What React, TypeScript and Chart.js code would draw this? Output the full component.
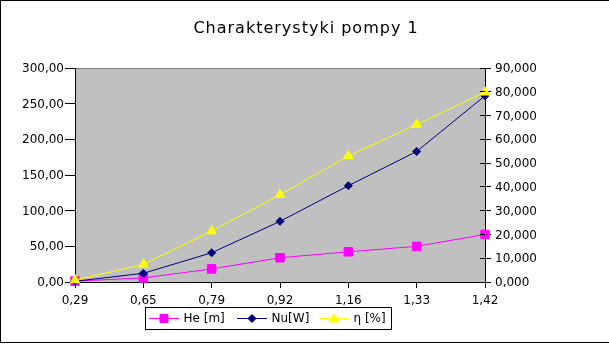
import React, { useEffect, useRef } from "react";
import { Chart, registerables } from "chart.js";

Chart.register(...registerables);

const categories = ["0,29", "0,65", "0,79", "0,92", "1,16", "1,33", "1,42"];
const heValues = [0.4, 1.7, 5.5, 10.2, 12.7, 15.0, 20.0]; // right axis
const nuValues = [1, 12.2, 41, 85, 135, 183, 261]; // left axis
const etaValues = [0.8, 7.4, 21.4, 36.7, 53.0, 66.2, 79.8]; // right axis
const seriesNames = ["He [m]", "Nu[W]", "η [%]"];
const seriesColors = ["#ff00ff", "#000080", "#ffff00"];
const titleText = "Charakterystyki pompy 1";
const leftMax = 300;
const leftStep = 50;
const rightMax = 90;
const rightStep = 10;

const FONT = '"DejaVu Sans", sans-serif';

function drawMarker(ctx: CanvasRenderingContext2D, kind: number, x: number, y: number, color: string) {
  ctx.save();
  ctx.fillStyle = color;
  ctx.strokeStyle = color;
  ctx.beginPath();
  if (kind === 0) {
    ctx.rect(x - 4, y - 4, 8, 8);
  } else if (kind === 1) {
    ctx.moveTo(x, y - 4);
    ctx.lineTo(x + 4, y);
    ctx.lineTo(x, y + 4);
    ctx.lineTo(x - 4, y);
    ctx.closePath();
  } else {
    ctx.moveTo(x, y - 5);
    ctx.lineTo(x + 5, y + 3.5);
    ctx.lineTo(x - 5, y + 3.5);
    ctx.closePath();
  }
  ctx.fill();
  ctx.stroke();
  ctx.restore();
}

const framePlugin = {
  id: "frame",
  beforeDraw(chart: any) {
    const { ctx, chartArea: a, width, height } = chart;
    ctx.save();
    ctx.fillStyle = "#ffffff";
    ctx.fillRect(0, 0, width, height);
    ctx.fillStyle = "#c0c0c0";
    ctx.fillRect(a.left, a.top, a.right - a.left, a.bottom - a.top);
    ctx.strokeStyle = "#808080";
    ctx.lineWidth = 1;
    ctx.beginPath();
    ctx.moveTo(a.left, a.top + 0.5);
    ctx.lineTo(a.right, a.top + 0.5);
    ctx.stroke();
    ctx.strokeStyle = "#000000";
    ctx.strokeRect(0.5, 0.5, width + 20, 342);
    ctx.restore();
  },
  afterDraw(chart: any) {
    const { ctx, chartArea: a } = chart;
    ctx.save();
    // title
    ctx.fillStyle = "#000";
    ctx.font = "16px " + FONT;
    (ctx as any).letterSpacing = "1px";
    ctx.textAlign = "center";
    ctx.textBaseline = "alphabetic";
    ctx.fillText(titleText, 306, 33);
    (ctx as any).letterSpacing = "0px";

    // inner ticks of the right axis
    const y1 = chart.scales.y1;
    ctx.strokeStyle = "#000";
    ctx.lineWidth = 1;
    y1.ticks.forEach((t: any) => {
      const py = Math.round(y1.getPixelForValue(t.value) - 0.5) + 0.5;
      ctx.beginPath();
      ctx.moveTo(a.right - 5, py);
      ctx.lineTo(a.right, py);
      ctx.stroke();
    });

    // legend
    ctx.strokeStyle = "#000";
    ctx.strokeRect(145.5, 307.5, 246, 22);
    const ly = 318.5;
    const starts = [149, 237, 319];
    ctx.font = "12px " + FONT;
    ctx.textAlign = "left";
    ctx.textBaseline = "middle";
    seriesNames.forEach((name, i) => {
      const x = starts[i];
      ctx.strokeStyle = seriesColors[i];
      ctx.beginPath();
      ctx.moveTo(x, ly);
      ctx.lineTo(x + 30, ly);
      ctx.stroke();
      drawMarker(ctx, i, x + 15, ly, seriesColors[i]);
      ctx.fillStyle = "#000";
      ctx.fillText(name, x + 34.5, 319);
    });
    ctx.restore();
  },
};

export default function App() {
  const ref = useRef<HTMLCanvasElement | null>(null);
  useEffect(() => {
    if (!ref.current) return;
    const tickFont = { family: FONT, size: 12 };
    const chart = new Chart(ref.current, {
      type: "line",
      data: {
        labels: categories,
        datasets: [
          {
            label: seriesNames[0],
            data: heValues,
            yAxisID: "y1",
            borderColor: seriesColors[0],
            backgroundColor: seriesColors[0],
            borderWidth: 1,
            pointStyle: "rect",
            pointRadius: 6,
            pointBorderWidth: 1,
            order: 3,
            clip: false,
          },
          {
            label: seriesNames[1],
            data: nuValues,
            yAxisID: "y",
            borderColor: seriesColors[1],
            backgroundColor: seriesColors[1],
            borderWidth: 1,
            pointStyle: "rectRot",
            pointRadius: 4,
            pointBorderWidth: 1,
            order: 2,
            clip: false,
          },
          {
            label: seriesNames[2],
            data: etaValues,
            yAxisID: "y1",
            borderColor: seriesColors[2],
            backgroundColor: seriesColors[2],
            borderWidth: 1,
            pointStyle: "triangle",
            pointRadius: 5.5,
            pointBorderWidth: 1,
            order: 1,
            clip: false,
          },
        ],
      },
      options: {
        responsive: false,
        animation: false,
        devicePixelRatio: 1,
        layout: { padding: { top: 68, left: 0, right: 0, bottom: 0 } },
        plugins: { legend: { display: false }, title: { display: false }, tooltip: { enabled: false } },
        scales: {
          x: {
            type: "category",
            offset: false,
            grid: { display: true, drawOnChartArea: false, drawTicks: true, tickLength: 6, color: "#000", offset: false },
            border: { display: true, color: "#000" },
            ticks: { color: "#000", font: tickFont, padding: 6, maxRotation: 0, autoSkip: false },
            afterFit: (s: any) => {
              s.height = 62;
            },
          },
          y: {
            position: "left",
            min: 0,
            max: leftMax,
            grid: { display: true, drawOnChartArea: false, drawTicks: true, tickLength: 10, color: "#000" },
            border: { display: true, color: "#000" },
            ticks: {
              stepSize: leftStep,
              color: "#000",
              font: tickFont,
              padding: 1,
              labelOffset: 1,
              callback: (v: any) => Number(v).toFixed(2).replace(".", ","),
            },
            afterFit: (s: any) => {
              s.width = 75;
            },
          },
          y1: {
            position: "right",
            min: 0,
            max: rightMax,
            grid: { display: true, drawOnChartArea: false, drawTicks: true, tickLength: 6, color: "#000" },
            border: { display: true, color: "#000" },
            ticks: {
              stepSize: rightStep,
              color: "#000",
              font: tickFont,
              padding: 4,
              labelOffset: 1,
              callback: (v: any) => Number(v).toFixed(3).replace(".", ","),
            },
            afterFit: (s: any) => {
              s.width = 124;
            },
          },
        },
      },
      plugins: [framePlugin],
    } as any);
    return () => chart.destroy();
  }, []);
  return (
    <div style={{ position: "absolute", left: 0, top: 0, width: 609, height: 344 }}>
      <canvas ref={ref} width={609} height={344} style={{ width: 609, height: 344, display: "block" }} />
    </div>
  );
}
